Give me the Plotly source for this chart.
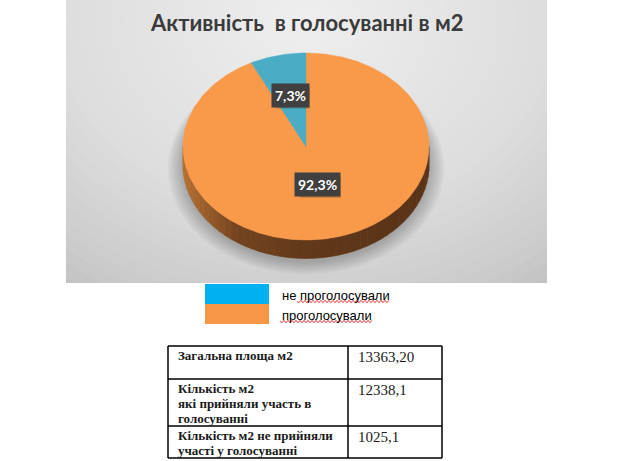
import numpy as np
import plotly.graph_objects as go

# ---------------- data ----------------
labels = ["не проголосували", "проголосували"]
pct = [7.3, 92.3]
pct_text = ["7,3%", "92,3%"]
title_text = "Активність  в голосуванні в м2"
table_labels = ["Загальна площа м2",
                "Кількість м2\nякі прийняли участь в\nголосуванні",
                "Кількість м2 не прийняли\nучасті у голосуванні"]
table_values = ["13363,20", "12338,1", "1025,1"]

# ---------------- styles / layout ----------------
W, H = 618, 461
slice_colors = ["#4bacc6", "#f9994a"]
legend_colors = ["#00b0f0", "#f79646"]
cx, cy, rx, ry, depth = 306, 146.5, 123, 93.5, 18.5
label_frac = [0.56, 0.42]

fig = go.Figure()
shapes = []
annotations = []

# chart panel with radial gradient
px0, py0, px1, py1 = 66, 0, 547, 283
shapes.append(dict(type="rect", x0=px0, y0=py0, x1=px1, y1=py1, fillcolor="#bfbfbf",
                   line=dict(width=0), layer="below"))
N = 30
gcx, gcy, grx, gry = 306, 20, 420, 330
for i in range(N):
    s = 1 - i / N
    shapes.append(dict(type="circle", x0=gcx - grx * s, x1=gcx + grx * s,
                       y0=gcy - gry * s, y1=gcy + gry * s,
                       fillcolor="white", opacity=0.055, line=dict(width=0), layer="below"))
# white mask outside panel (to keep the gradient inside)
shapes.append(dict(type="rect", x0=0, x1=px0, y0=0, y1=H, fillcolor="white", line=dict(width=0), layer="below"))
shapes.append(dict(type="rect", x0=px1, x1=W, y0=0, y1=H, fillcolor="white", line=dict(width=0), layer="below"))
shapes.append(dict(type="rect", x0=0, x1=W, y0=py1, y1=H, fillcolor="white", line=dict(width=0), layer="below"))

# soft shadow under pie
for i in range(7):
    g = 2 + i * 2.2
    shapes.append(dict(type="circle", x0=cx - rx - g, x1=cx + rx + g,
                       y0=cy - ry + 14 - g * 0.3, y1=cy + ry + depth + 2 + g * 0.9,
                       fillcolor="black", opacity=0.035, line=dict(width=0), layer="below"))


def pt(theta_deg, dy=0.0):
    t = np.radians(theta_deg)
    return cx + rx * np.sin(t), cy - ry * np.cos(t) + dy


# pie side (extrusion), with shading gradient
def side_color(x):
    u = (x - (cx - rx)) / (2 * rx)
    stops = [(0.0, (182, 113, 52)), (0.22, (116, 68, 31)), (0.5, (98, 57, 27)), (1.0, (90, 50, 23))]
    for (u0, c0), (u1, c1) in zip(stops[:-1], stops[1:]):
        if u <= u1:
            f = (u - u0) / (u1 - u0) if u1 > u0 else 0
            f = min(max(f, 0), 1)
            c = [int(c0[k] + (c1[k] - c0[k]) * f) for k in range(3)]
            return "rgb(%d,%d,%d)" % tuple(c)
    return "rgb(%d,%d,%d)" % stops[-1][1]


seg_edges = np.linspace(90, 270, 49)
for a0, a1 in zip(seg_edges[:-1], seg_edges[1:]):
    th = np.linspace(a0, a1, 6)
    xs_t, ys_t = pt(th)
    xs_b, ys_b = pt(th[::-1], depth)
    xs = np.concatenate([xs_t, xs_b, xs_t[:1]])
    ys = np.concatenate([ys_t, ys_b, ys_t[:1]])
    col = side_color(pt((a0 + a1) / 2)[0])
    fig.add_trace(go.Scatter(x=xs, y=ys, mode="lines", fill="toself", fillcolor=col,
                             line=dict(color=col, width=0.6), hoverinfo="skip", showlegend=False))

# pie top face: slices from the values (orange clockwise from 12 o'clock, then blue)
total = sum(pct)
order = [1, 0]
start = 0.0
mids = {}
for idx in order:
    sweep = pct[idx] / total * 360
    th = np.linspace(start, start + sweep, max(int(sweep), 2) + 1)
    xs_a, ys_a = pt(th)
    xs = np.concatenate([[cx], xs_a, [cx]])
    ys = np.concatenate([[cy], ys_a, [cy]])
    fig.add_trace(go.Scatter(x=xs, y=ys, mode="lines", fill="toself", fillcolor=slice_colors[idx],
                             line=dict(color=slice_colors[idx], width=0.5), name=labels[idx],
                             hoverinfo="name", showlegend=False))
    mids[idx] = start + sweep / 2
    start += sweep

# data labels (dark boxes with a soft shadow)
for idx in range(len(pct)):
    t = np.radians(mids[idx])
    lx = cx + rx * label_frac[idx] * np.sin(t)
    ly = cy - ry * label_frac[idx] * np.cos(t)
    bw = 7 * len(pct_text[idx]) + 5
    bh = 20
    shapes.append(dict(type="rect", x0=lx - bw / 2 + 2, x1=lx + bw / 2 + 3, y0=ly - bh / 2 + 2,
                       y1=ly + bh / 2 + 3, fillcolor="rgba(70,40,15,0.28)", line=dict(width=0),
                       layer="above"))
    annotations.append(dict(x=lx, y=ly, text="<b>%s</b>" % pct_text[idx], showarrow=False,
                            font=dict(family="Lato", size=14, color="white"),
                            bgcolor="#404040", borderpad=3))

# title
annotations.append(dict(x=306, y=22, text="<b>%s</b>" % title_text, showarrow=False,
                        font=dict(family="Lato", size=22, color="#3a3a3a")))

# legend (drawn below chart)
lg_x0, lg_x1, lg_y0, lg_h = 205, 269, 284, 20
for i, lab in enumerate(labels):
    shapes.append(dict(type="rect", x0=lg_x0, x1=lg_x1, y0=lg_y0 + i * lg_h, y1=lg_y0 + (i + 1) * lg_h,
                       fillcolor=legend_colors[i], line=dict(width=0), layer="above"))
    annotations.append(dict(x=280, y=lg_y0 + i * lg_h + 11, text=lab, showarrow=False, xanchor="left",
                            font=dict(family="Liberation Sans", size=13, color="black")))


def wavy(x0, x1, y, amp=1.2, step=2.0):
    xs = np.arange(x0, x1, step)
    p = "M %.1f %.1f" % (xs[0], y)
    for k, x in enumerate(xs[1:]):
        p += " L %.1f %.1f" % (x, y + (amp if k % 2 == 0 else -amp))
    return p


for (wx0, wx1, wy) in [(297, 391, 301.5), (280, 373, 321.5)]:
    shapes.append(dict(type="path", path=wavy(wx0, wx1, wy), line=dict(color="#e02020", width=0.9),
                       layer="above"))

# table
tx0, tx1, tmid = 168, 442, 348
row_edges = [346, 379, 426, 458]
lw = 1.5
for y in row_edges:
    shapes.append(dict(type="line", x0=tx0, x1=tx1, y0=y, y1=y, line=dict(color="black", width=lw)))
for x in [tx0, tmid, tx1]:
    shapes.append(dict(type="line", x0=x, x1=x, y0=row_edges[0], y1=row_edges[-1],
                       line=dict(color="black", width=lw)))
for r, (lab, val) in enumerate(zip(table_labels, table_values)):
    top = row_edges[r]
    for j, line in enumerate(lab.split("\n")):
        annotations.append(dict(x=176, y=top + 9 + j * 15, text="<b>%s</b>" % line, showarrow=False,
                                xanchor="left", font=dict(family="Liberation Serif", size=13, color="#1a1a1a")))
    annotations.append(dict(x=356, y=top + 11, text=val, showarrow=False, xanchor="left",
                            font=dict(family="Liberation Serif", size=15, color="#1a1a1a")))

fig.update_layout(
    width=W, height=H, autosize=False,
    margin=dict(l=0, r=0, t=0, b=0, pad=0),
    paper_bgcolor="white", plot_bgcolor="white",
    xaxis=dict(range=[0, W], visible=False, fixedrange=True),
    yaxis=dict(range=[H, 0], visible=False, fixedrange=True),
    shapes=shapes, annotations=annotations, showlegend=False,
)
fig.write_html("out.html", config={"displayModeBar": False, "staticPlot": True},
               post_script="document.body.style.margin='0';")
